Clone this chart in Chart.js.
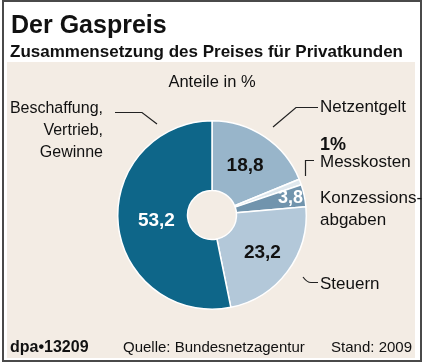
<!DOCTYPE html>
<html>
<head>
<meta charset="utf-8">
<script src="https://cdn.jsdelivr.net/npm/chart.js@4/dist/chart.umd.min.js"></script>
<style>
html, body { margin: 0; padding: 0; background: #fff; }
#mycanvas { display: block; }
</style>
</head>
<body>
<canvas id="mycanvas" width="425" height="364"></canvas>
<script>
// Anteile in % (Quelle: Bundesnetzagentur, Stand 2009)
var categories = ['Netzentgelt', 'Messkosten', 'Konzessionsabgaben', 'Steuern', 'Beschaffung, Vertrieb, Gewinne'];
var shares = [18.8, 1, 3.8, 23.2, 53.2];
var valueLabels = ['18,8', '', '3,8', '23,2', '53,2'];

var sliceColors = ['#98b5ca', '#dfe8ee', '#7194ad', '#b3c8d9', '#0e6689'];
var labelColors = ['#111', '#111', '#fff', '#111', '#fff'];
var labelRadius = [0.5, 0.5, 0.8, 0.55, 0.45];

var FONT = '"Liberation Sans", Arial, sans-serif';

var backgroundPlugin = {
	id: 'bg',
	beforeDraw: function(chart) {
		var ctx = chart.ctx;
		ctx.save();
		ctx.fillStyle = '#ffffff';
		ctx.fillRect(0, 0, chart.width, chart.height);
		ctx.fillStyle = '#f3ece4';
		ctx.fillRect(7, 62, 408, 296);
		ctx.strokeStyle = '#4a4a4a';
		ctx.lineWidth = 2;
		ctx.strokeRect(3, 1, 418, 360);
		ctx.restore();
	}
};

function txt(ctx, s, x, y, font, align, color) {
	ctx.font = font;
	ctx.textAlign = align || 'left';
	ctx.fillStyle = color || '#111';
	ctx.fillText(s, x, y);
}

var textPlugin = {
	id: 'texts',
	afterDraw: function(chart) {
		var ctx = chart.ctx;
		ctx.save();

		// values inside the slices
		var meta = chart.getDatasetMeta(0);
		meta.data.forEach(function(arc, i) {
			if (!valueLabels[i]) return;
			var p = arc.getProps(['x', 'y', 'startAngle', 'endAngle', 'innerRadius', 'outerRadius'], true);
			var a = (p.startAngle + p.endAngle) / 2;
			var r = p.innerRadius + (p.outerRadius - p.innerRadius) * labelRadius[i];
			ctx.font = 'bold ' + (i == 2 ? 18 : 19) + 'px ' + FONT;
			ctx.textAlign = 'center';
			ctx.textBaseline = 'middle';
			ctx.fillStyle = labelColors[i];
			ctx.fillText(valueLabels[i], p.x + Math.cos(a) * r, p.y + Math.sin(a) * r);
		});
		ctx.textBaseline = 'alphabetic';

		// heading
		txt(ctx, 'Der Gaspreis', 11, 33, 'bold 25px ' + FONT);
		txt(ctx, 'Zusammensetzung des Preises für Privatkunden', 10, 57, 'bold 17px ' + FONT);
		txt(ctx, 'Anteile in %', 212, 87, '16.5px ' + FONT, 'center');

		// category labels
		var f = '16px ' + FONT;
		var fr = '17px ' + FONT;
		txt(ctx, 'Beschaffung,', 103, 113, f, 'right');
		txt(ctx, 'Vertrieb,', 103, 135, f, 'right');
		txt(ctx, 'Gewinne', 103, 157, f, 'right');
		txt(ctx, 'Netzentgelt', 320, 112, fr);
		txt(ctx, '1%', 320, 150, 'bold 18px ' + FONT);
		txt(ctx, 'Messkosten', 320, 167, fr);
		txt(ctx, 'Konzessions-', 320, 203, fr);
		txt(ctx, 'abgaben', 320, 225, fr);
		txt(ctx, 'Steuern', 320, 289, fr);

		// footer
		txt(ctx, 'dpa\u202213209', 10, 352, 'bold 16px ' + FONT);
		txt(ctx, 'Quelle: Bundesnetzagentur', 123, 352, '15px ' + FONT);
		txt(ctx, 'Stand: 2009', 412, 352, '15px ' + FONT, 'right');

		// leader lines
		ctx.strokeStyle = '#222';
		ctx.lineWidth = 1.2;
		ctx.beginPath();
		ctx.moveTo(115, 112.5); ctx.lineTo(142, 112.5); ctx.lineTo(157, 124);
		ctx.moveTo(273, 127); ctx.lineTo(296, 107.5); ctx.lineTo(318, 107.5);
		ctx.moveTo(305.5, 176); ctx.lineTo(305.5, 160.5); ctx.lineTo(314, 160.5);
		ctx.moveTo(303, 277); ctx.quadraticCurveTo(307, 282.5, 311, 282.5); ctx.lineTo(318, 282.5);
		ctx.stroke();
		ctx.restore();
	}
};

var chartdata = {
	labels: categories,
	datasets: [
		{
			data: shares,
			backgroundColor: sliceColors,
			borderColor: '#ffffff',
			borderWidth: 1.5,
			hoverOffset: 0
		}
	]
};

var ctx = document.getElementById('mycanvas');
var pieChart = new Chart(ctx, {
	type: 'doughnut',
	data: chartdata,
	options: {
		responsive: false,
		animation: false,
		cutout: '26%',
		layout: { padding: { left: 117, right: 118, top: 120, bottom: 54 } },
		plugins: {
			legend: { display: false },
			tooltip: { enabled: false }
		}
	},
	plugins: [backgroundPlugin, textPlugin]
});
</script>
</body>
</html>
